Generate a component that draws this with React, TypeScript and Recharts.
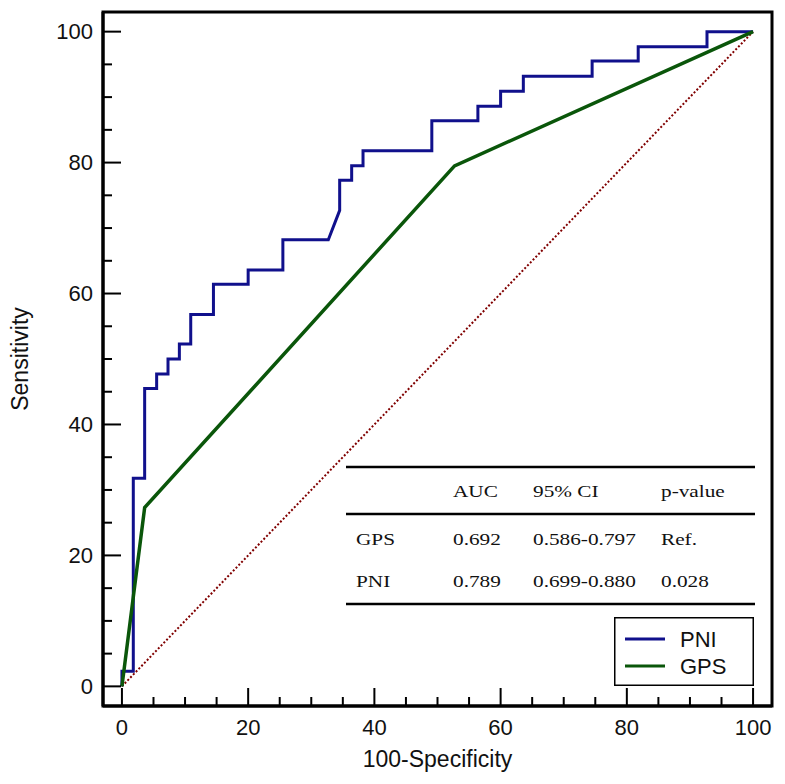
import React from 'react';
import { LineChart, Line, XAxis, YAxis, ReferenceArea, Legend, Customized, Label } from 'recharts';

// ROC curve of PNI (step curve)
const pniX = [0, 0, 1.8, 1.8, 3.6, 3.6, 5.5, 5.5, 7.3, 7.3, 9.1, 9.1, 10.9, 10.9, 14.5, 14.5, 20, 20, 25.5, 25.5, 32.7, 34.5, 34.5, 36.4, 36.4, 38.2, 38.2, 49.1, 49.1, 56.4, 56.4, 60, 60, 63.6, 63.6, 74.5, 74.5, 81.8, 81.8, 92.7, 92.7, 100];
const pniY = [0, 2.3, 2.3, 31.8, 31.8, 45.5, 45.5, 47.7, 47.7, 50, 50, 52.3, 52.3, 56.8, 56.8, 61.4, 61.4, 63.6, 63.6, 68.2, 68.2, 72.7, 77.3, 77.3, 79.5, 79.5, 81.8, 81.8, 86.4, 86.4, 88.6, 88.6, 90.9, 90.9, 93.2, 93.2, 95.5, 95.5, 97.7, 97.7, 100, 100];

// ROC curve of GPS
const gpsX = [0, 3.6, 52.7, 100];
const gpsY = [0, 27.3, 79.5, 100];

// chance diagonal
const chanceX = [0, 100];
const chanceY = [0, 100];

// axis ticks
const xTicks = [0, 5, 10, 15, 20, 25, 30, 35, 40, 45, 50, 55, 60, 65, 70, 75, 80, 85, 90, 95, 100];
const yTicks = [0, 5, 10, 15, 20, 25, 30, 35, 40, 45, 50, 55, 60, 65, 70, 75, 80, 85, 90, 95, 100];
const majorTickStep = 20;

// legend order
const legendOrder = ['PNI', 'GPS'];

// table
const tableHeader = ['', 'AUC', '95% CI', 'p-value'];
const tableModels = ['GPS', 'PNI'];
const aucValues = ['0.692', '0.789'];
const ciValues = ['0.586-0.797', '0.699-0.880'];
const pValues = ['Ref.', '0.028'];

const toPoints = (xs: number[], ys: number[]) => xs.map((x, i) => ({ x, y: ys[i] }));
const pniData = toPoints(pniX, pniY);
const gpsData = toPoints(gpsX, gpsY);
const chanceData = toPoints(chanceX, chanceY);

const SANS = '"Liberation Sans", Arial, Helvetica, sans-serif';
const SERIF = '"Liberation Serif", "Times New Roman", serif';

const XTick = (props: any) => {
  const { x, y, payload } = props;
  const v = payload.value;
  const major = v % majorTickStep === 0;
  return (
    <g>
      <line x1={x} x2={x} y1={y} y2={y - (major ? 18 : 9)} stroke="#000" strokeWidth={2} />
      {major && (
        <text x={x} y={y + 29} textAnchor="middle" fontSize={22} fontFamily={SANS} fill="#111">
          {v}
        </text>
      )}
    </g>
  );
};

const YTick = (props: any) => {
  const { x, y, payload } = props;
  const v = payload.value;
  const major = v % majorTickStep === 0;
  return (
    <g>
      <line x1={x} x2={x + (major ? 18 : 9)} y1={y} y2={y} stroke="#000" strokeWidth={2} />
      {major && (
        <text x={x - 10} y={y} dy="0.35em" textAnchor="end" fontSize={22} fontFamily={SANS} fill="#111">
          {v}
        </text>
      )}
    </g>
  );
};

const TableOverlay = () => {
  const lineX1 = 338;
  const lineX2 = 747;
  const lineYs = [459, 506, 596];
  const colX = [348, 445, 525, 653];
  const headerY = 489;
  const rowYs = [537, 579];
  const cell = (txt: string, x: number, y: number, key: string) => (
    <text
      key={key}
      transform={`translate(${x},${y}) scale(1.33,1)`}
      fontSize={16}
      fontFamily={SERIF}
      fill="#111"
    >
      {txt}
    </text>
  );
  return (
    <g>
      {lineYs.map((ly, i) => (
        <line key={'l' + i} x1={lineX1} x2={lineX2} y1={ly} y2={ly} stroke="#000" strokeWidth={2.7} />
      ))}
      {tableHeader.map((h, i) => cell(h, colX[i], headerY, 'h' + i))}
      {tableModels.map((m, r) => (
        <g key={'r' + r}>
          {cell(m, colX[0], rowYs[r], 'm' + r)}
          {cell(aucValues[r], colX[1], rowYs[r], 'a' + r)}
          {cell(ciValues[r], colX[2], rowYs[r], 'c' + r)}
          {cell(pValues[r], colX[3], rowYs[r], 'p' + r)}
        </g>
      ))}
    </g>
  );
};

const renderLegend = (props: any) => {
  const items = (props.payload || [])
    .filter((p: any) => p.type !== 'none' && legendOrder.indexOf(p.value) >= 0)
    .slice()
    .sort((a: any, b: any) => legendOrder.indexOf(a.value) - legendOrder.indexOf(b.value));
  return (
    <svg width={140} height={69} style={{ display: 'block' }}>
      <rect x={0.75} y={0.75} width={138.5} height={67.5} fill="#fff" stroke="#000" strokeWidth={1.5} />
      {items.map((it: any, i: number) => (
        <g key={i}>
          <line x1={11} x2={51} y1={22 + i * 27} y2={22 + i * 27} stroke={it.color} strokeWidth={3} />
          <text x={66} y={30 + i * 27} fontSize={22} fontFamily={SANS} fill="#111">
            {it.value}
          </text>
        </g>
      ))}
    </svg>
  );
};

export default function App() {
  return (
    <div style={{ width: 777, height: 776 }}>
      <LineChart width={777} height={776} margin={{ top: 4, right: 13, bottom: 0, left: 0 }}>
        <XAxis
          dataKey="x"
          type="number"
          domain={[-3, 103]}
          ticks={xTicks}
          interval={0}
          tickSize={0}
          tickMargin={0}
          tickLine={false}
          tick={<XTick />}
          height={78}
          axisLine={{ stroke: '#000', strokeWidth: 3 }}
          allowDataOverflow
        >
          <Label
            value="100-Specificity"
            position="insideBottom"
            offset={17}
            style={{ fontSize: 23, fontFamily: SANS, fill: '#111' }}
          />
        </XAxis>
        <YAxis
          dataKey="y"
          type="number"
          domain={[-3, 103]}
          ticks={yTicks}
          interval={0}
          tickSize={0}
          tickMargin={0}
          tickLine={false}
          tick={<YTick />}
          width={95}
          axisLine={{ stroke: '#000', strokeWidth: 3 }}
          allowDataOverflow
        >
          <Label
            value="Sensitivity"
            angle={-90}
            position="insideLeft"
            offset={12}
            style={{ fontSize: 23, fontFamily: SANS, fill: '#111', textAnchor: 'middle' }}
          />
        </YAxis>
        <ReferenceArea x1={-3} x2={103} y1={-3} y2={103} fill="none" stroke="#000" strokeWidth={3} />
        <Line
          data={chanceData}
          dataKey="y"
          name="chance"
          stroke="#800000"
          strokeWidth={2}
          strokeDasharray="2 2"
          dot={false}
          activeDot={false}
          legendType="none"
          isAnimationActive={false}
        />
        <Line
          data={pniData}
          dataKey="y"
          name="PNI"
          stroke="#10108c"
          strokeWidth={3}
          dot={false}
          activeDot={false}
          isAnimationActive={false}
        />
        <Line
          data={gpsData}
          dataKey="y"
          name="GPS"
          stroke="#0a560a"
          strokeWidth={3.5}
          dot={false}
          activeDot={false}
          isAnimationActive={false}
        />
        <Customized component={TableOverlay} />
        <Legend
          layout="vertical"
          align="center"
          verticalAlign="middle"
          content={renderLegend}
          wrapperStyle={{ position: 'absolute', left: 606, top: 609, width: 140, height: 69, margin: 0, padding: 0, lineHeight: 0 }}
        />
      </LineChart>
    </div>
  );
}
